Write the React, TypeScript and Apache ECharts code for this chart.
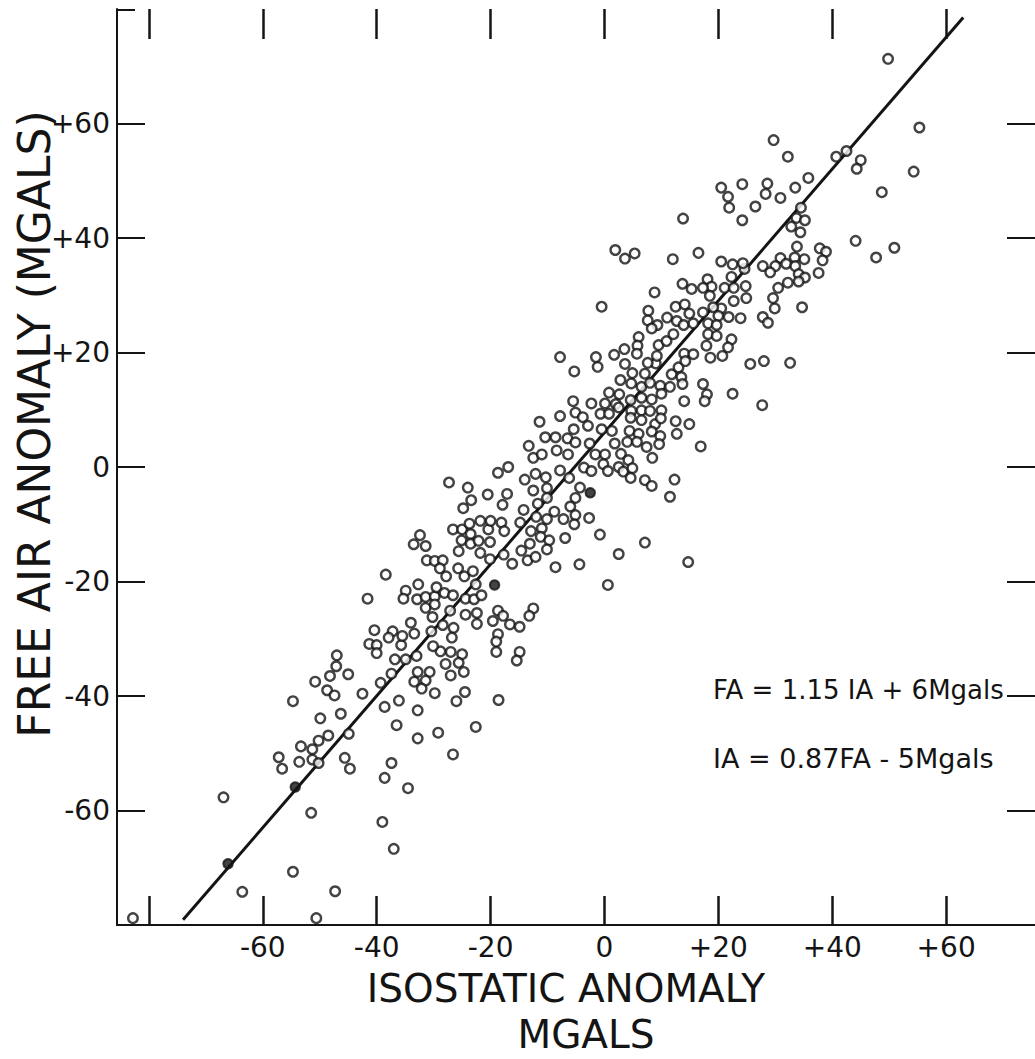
import React, { useEffect, useRef } from "react";
import * as echarts from "echarts";

// Tick values (data units, mGal)
const xTickValues = [-80, -60, -40, -20, 0, 20, 40, 60];
const xLabelValues = [-60, -40, -20, 0, 20, 40, 60];
const yTickValues = [-60, -40, -20, 0, 20, 40, 60];
const yLabelValues = [-60, -40, -20, 0, 20, 40, 60];

// Regression line FA = 1.15 IA + 6 (end points)
const fitLine = [
  [-74, -79.1],
  [63, 78.5],
];

// Observations [isostatic anomaly, free-air anomaly]
const pointsLow = [
  [-82.8, -78.8], [-47.0, -32.9], [-47.1, -34.8], [-48.2, -36.5], [-45.0, -36.2], [-41.3, -30.9], [-40.0, -31.1],
  [-40.0, -32.5], [-35.7, -31.1], [-36.8, -33.6], [-34.9, -33.6], [-33.0, -33.0], [-50.8, -37.5], [-48.7, -39.0],
  [-47.4, -39.9], [-42.5, -39.6], [-39.3, -37.7], [-37.4, -36.1], [-33.4, -37.5], [-32.8, -35.8], [-54.7, -40.9],
  [-49.9, -43.9], [-46.3, -43.1], [-38.6, -41.9], [-36.1, -40.8], [-32.8, -42.5], [-36.5, -45.1], [-32.8, -47.4],
  [-48.5, -46.9], [-50.2, -47.8], [-44.9, -46.6], [-53.3, -48.8], [-51.3, -49.3], [-51.3, -51.1], [-50.2, -51.7],
  [-57.2, -50.7], [-56.6, -52.7], [-53.6, -51.5], [-45.6, -50.8], [-44.7, -52.7], [-37.4, -51.7], [-38.6, -54.3],
  [-34.5, -56.1], [-66.9, -57.7], [-51.5, -60.4], [-39.0, -62.0], [-37.0, -66.7], [-54.7, -70.7],
  [-63.6, -74.2], [-47.3, -74.1], [-50.6, -78.8],
];

const pointsMidLow = [
  [-27.3, -2.7], [-24.0, -3.6], [-20.5, -4.8], [-17.1, -4.7], [-23.4, -5.8], [-24.8, -7.2], [-17.9, -6.6],
  [-12.5, -4.1], [-10.1, -3.7], [-11.7, -6.4], [-14.2, -7.5], [-8.8, -7.8], [-10.1, -5.4], [-26.6, -10.9],
  [-25.0, -10.9], [-23.7, -9.9], [-23.5, -11.7], [-25.1, -12.8], [-21.8, -9.4], [-20.4, -10.9], [-20.0, -9.4],
  [-18.1, -9.7], [-17.6, -11.2], [-14.8, -9.7], [-12.9, -11.2], [-12.0, -8.7], [-10.1, -9.1], [-11.0, -10.7],
  [-11.2, -12.2], [-9.7, -12.8], [-13.1, -13.4], [-14.6, -14.6], [-13.5, -16.3], [-12.1, -15.7], [-10.1, -14.4],
  [-8.6, -17.5], [-16.2, -16.9], [-17.7, -15.3], [-20.1, -16.1], [-21.8, -15.0], [-23.5, -13.4], [-22.1, -12.9],
  [-20.1, -13.1], [-25.6, -14.7], [-32.4, -11.9], [-33.5, -13.5], [-31.4, -13.8], [-31.2, -16.3], [-29.8, -16.4],
  [-28.4, -16.3], [-28.9, -17.7], [-27.8, -19.1], [-25.7, -17.7], [-24.6, -19.1], [-23.1, -18.2], [-38.4, -18.8],
  [-34.9, -21.6], [-35.3, -23.0], [-32.7, -20.5], [-32.9, -23.1], [-31.4, -22.7], [-31.4, -24.6], [-29.8, -22.6],
  [-29.5, -21.0], [-29.8, -24.0], [-28.1, -22.0], [-26.6, -22.4], [-27.1, -25.1], [-24.4, -23.0], [-22.9, -23.1],
  [-21.6, -22.4], [-22.6, -20.5], [-41.6, -23.0], [-30.2, -26.2], [-24.4, -25.8], [-22.4, -25.5], [-22.4, -27.4],
  [-18.7, -25.1], [-17.8, -26.0], [-19.6, -26.9], [-16.6, -27.5], [-14.9, -27.9], [-12.5, -24.7], [-13.2, -26.0],
  [-34.0, -27.2], [-33.4, -29.1], [-30.4, -28.7], [-28.4, -27.6], [-26.5, -28.1], [-26.8, -29.8], [-40.4, -28.5],
  [-37.2, -28.7], [-37.9, -29.8], [-35.5, -29.5], [-18.7, -29.2],
  [-19.0, -30.5], [-19.0, -32.3], [-14.9, -32.3], [-15.4, -33.8], [-25.0, -32.7], [-25.6, -34.2], [-24.7, -35.8],
  [-27.0, -32.3], [-28.8, -32.2], [-30.1, -31.3], [-27.9, -34.4], [-27.0, -36.4], [-30.7, -35.8], [-31.4, -37.3],
  [-32.1, -38.7], [-29.8, -39.5], [-24.5, -39.3], [-26.0, -40.9], [-18.6, -40.7], [-29.2, -46.4], [-22.6, -45.4],
  [-26.6, -50.2],
];

const pointsMid = [
  [-5.3, 16.7], [-1.2, 17.5], [3.6, 18.0], [4.9, 16.4], [7.1, 16.3], [9.0, 18.1], [11.8, 16.2], [2.8, 15.2],
  [4.7, 14.6], [6.5, 14.0], [8.0, 14.7], [9.8, 14.2], [11.5, 14.0], [0.8, 13.0], [2.6, 12.7], [2.0, 11.0],
  [4.6, 11.7], [6.5, 12.1], [8.3, 11.8], [10.0, 12.8], [0.1, 11.1], [-2.3, 11.1], [-5.5, 11.5], [-5.1, 9.5],
  [-3.8, 8.7], [-0.7, 9.3], [0.8, 9.3], [2.5, 10.4], [4.7, 9.8], [6.5, 9.9], [8.0, 9.8], [10.0, 9.9],
  [4.6, 8.6], [6.5, 8.2], [8.9, 7.5], [9.9, 8.5], [12.5, 8.0], [-7.8, 8.9], [-11.4, 7.9], [-2.9, 7.2],
  [-5.4, 6.6], [-0.5, 6.6], [1.3, 6.3], [4.4, 6.3], [6.0, 5.8], [8.3, 6.2], [9.8, 5.4], [12.7, 5.8],
  [-10.4, 5.2], [-8.6, 5.2], [-6.5, 5.0], [-5.1, 4.3], [-2.6, 4.1], [1.8, 4.1], [4.0, 4.4], [5.7, 4.4],
  [7.4, 3.5], [9.6, 4.0], [-13.3, 3.7], [-12.5, 1.6], [-11.0, 2.2], [-8.4, 2.9], [-6.4, 2.2], [-1.6, 2.2],
  [0.1, 2.2], [2.9, 2.3], [4.2, 1.2], [8.4, 1.6], [-3.6, -0.1], [-2.3, -0.7], [-0.2, 0.5], [0.6, -0.7],
  [2.5, 0], [3.3, -0.8], [4.9, -0.2], [4.6, -1.9], [7.1, -2.3], [-7.8, -0.6], [-6.2, -1.9], [-18.7, -1.0],
  [-16.9, 0], [-14.0, -2.2], [-12.1, -1.2], [-10.3, -1.8], [12.3, -2.2], [-4.3, -3.6], [-5.1, -5.4],
  [-6.0, -6.9], [-5.1, -8.4], [-5.3, -10.0], [-7.2, -9.1], [-2.7, -8.9], [-0.8, -11.8], [-6.9, -12.4],
  [-4.4, -17.0], [2.5, -15.2], [7.1, -13.2], [0.6, -20.6], [8.3, -3.3], [11.5, -5.2],
];

const pointsMidHigh = [
  [13.8, 43.4], [1.9, 37.9], [3.6, 36.4], [5.3, 37.3], [12.0, 36.3], [16.5, 37.4], [-0.5, 28.0], [8.8, 30.5],
  [13.7, 32.0], [15.3, 31.1], [7.7, 27.3], [7.6, 25.6], [9.3, 24.8], [8.3, 24.2], [11.0, 26.1], [12.7, 25.5],
  [12.5, 28.0], [14.1, 28.4], [14.9, 26.8], [13.9, 24.8], [15.6, 25.1], [6.0, 22.7], [5.8, 21.2], [5.7, 19.8],
  [3.5, 20.6], [1.7, 19.6], [-1.5, 19.2], [-7.8, 19.2], [9.5, 21.3], [10.9, 22.0], [12.1, 23.2], [9.2, 19.4],
  [7.6, 18.2], [14.0, 19.8], [15.6, 19.7], [13.0, 17.4], [14.2, 18.5], [13.5, 15.7], [13.7, 14.5], [17.3, 14.5],
  [18.0, 12.7], [17.6, 11.5], [14.0, 11.5], [22.5, 12.8], [18.6, 19.1], [20.7, 19.4], [25.6, 18.0], [28.0, 18.5],
  [32.6, 18.2], [27.7, 10.8], [14.9, 7.5], [16.9, 3.6], [14.7, -16.6],
];

const pointsHigh = [
  [49.8, 71.3], [55.3, 59.3], [29.7, 57.1], [32.2, 54.2], [40.7, 54.2], [42.5, 55.2], [45.0, 53.6], [44.3, 52.1],
  [54.3, 51.6], [48.7, 48.0], [20.5, 48.8], [21.7, 47.2], [21.9, 45.3], [24.2, 49.4], [28.6, 49.5], [28.3, 47.7],
  [26.5, 45.5], [30.9, 47.0], [33.5, 48.8], [35.8, 50.5], [34.5, 45.3], [24.2, 43.1], [33.7, 43.5], [35.2, 43.1],
  [32.8, 42.0], [34.4, 41.0], [44.1, 39.5], [50.9, 38.3], [47.7, 36.6], [33.8, 38.5], [37.8, 38.2], [38.9, 37.6],
  [38.3, 36.1], [35.1, 36.3], [33.4, 36.6], [30.9, 36.5], [31.9, 35.5], [30.0, 35.1], [27.8, 35.1], [29.1, 34.0],
  [33.5, 35.1], [34.1, 33.7], [35.2, 33.1], [37.6, 33.9], [32.2, 32.2], [30.5, 31.3], [34.1, 32.4], [29.6, 29.5],
  [29.9, 27.7], [27.8, 26.2], [28.7, 25.2], [34.7, 27.9], [24.9, 29.5], [24.8, 31.6], [23.9, 26.0], [24.6, 34.6],
  [24.3, 35.6], [22.5, 35.4], [20.5, 35.9], [22.3, 33.2], [21.1, 31.3], [22.7, 31.3], [22.7, 29.0], [18.1, 32.8],
  [18.8, 31.5], [17.3, 31.3], [18.5, 29.9], [20.5, 27.7], [19.1, 27.9], [17.3, 27.0], [20.0, 26.4], [21.8, 26.2],
  [18.2, 25.1], [19.7, 24.8], [18.2, 23.2], [19.7, 22.9], [22.3, 22.3], [17.9, 21.2], [21.7, 20.9],
];

// Points drawn as solid dots in the figure
const pointsSolid = [
  [-66.1, -69.3], [-54.3, -55.9], [-19.3, -20.6], [-2.5, -4.5],
];

const fmt = (v: number) => (v > 0 ? `+${v}` : `${v}`);

export default function App() {
  const ref = useRef<HTMLDivElement>(null);

  useEffect(() => {
    document.body.style.margin = "0";
    const chart = echarts.init(ref.current!, null, { renderer: "svg" });
    const font = "DejaVu Sans";
    const ink = "#141414";
    const xMin = -85.6;
    const xMax = 75.6;
    const scatterBase = {
      type: "scatter",
      symbol: "circle",
      symbolSize: 9.5,
      itemStyle: { color: "#ffffff", borderColor: ink, borderWidth: 2.4 },
      z: 3,
      silent: true,
    };

    chart.setOption({
      animation: false,
      backgroundColor: "#ffffff",
      grid: { left: 117, right: -3, top: 9, bottom: 134 },
      xAxis: [
        {
          type: "value",
          position: "bottom",
          min: xMin,
          max: xMax,
          splitLine: { show: false },
          axisLine: { show: true, onZero: false, lineStyle: { color: ink, width: 2 } },
          axisTick: {
            show: true,
            inside: true,
            length: 29,
            customValues: xTickValues,
            lineStyle: { color: ink, width: 2.5 },
          },
          axisLabel: {
            show: true,
            customValues: xLabelValues,
            formatter: fmt,
            margin: 8,
            fontSize: 28,
            color: ink,
            fontFamily: font,
          },
        },
        {
          type: "value",
          position: "top",
          min: xMin,
          max: xMax,
          splitLine: { show: false },
          axisLine: { show: false, onZero: false },
          axisTick: {
            show: true,
            inside: true,
            length: 30,
            customValues: xTickValues,
            lineStyle: { color: ink, width: 2.5 },
          },
          axisLabel: { show: false },
        },
      ],
      yAxis: [
        {
          type: "value",
          position: "left",
          min: -80,
          max: 80,
          splitLine: { show: false },
          axisLine: { show: true, onZero: false, lineStyle: { color: ink, width: 2 } },
          axisTick: {
            show: true,
            inside: true,
            length: 28,
            customValues: yTickValues,
            lineStyle: { color: ink, width: 2 },
          },
          axisLabel: {
            show: true,
            customValues: yLabelValues,
            formatter: fmt,
            margin: 7,
            fontSize: 28,
            color: ink,
            fontFamily: font,
          },
        },
        {
          type: "value",
          position: "right",
          min: -80,
          max: 80,
          splitLine: { show: false },
          axisLine: { show: false, onZero: false },
          axisTick: {
            show: true,
            inside: true,
            length: 28,
            customValues: yTickValues,
            lineStyle: { color: ink, width: 2 },
          },
          axisLabel: { show: false },
        },
      ],
      series: [
        {
          type: "line",
          data: fitLine,
          symbol: "none",
          lineStyle: { color: ink, width: 3 },
          z: 2,
          silent: true,
        },
        { ...scatterBase, data: pointsLow },
        { ...scatterBase, data: pointsMidLow },
        { ...scatterBase, data: pointsMid },
        { ...scatterBase, data: pointsMidHigh },
        { ...scatterBase, data: pointsHigh },
        {
          ...scatterBase,
          data: pointsSolid,
          itemStyle: { color: ink, borderColor: ink, borderWidth: 2 },
        },
      ],
      graphic: [
        {
          type: "line",
          shape: { x1: 117, y1: 10, x2: 135, y2: 10 },
          style: { stroke: ink, lineWidth: 2 },
        },
        {
          type: "text",
          x: 34,
          y: 424,
          rotation: Math.PI / 2,
          style: {
            text: "FREE AIR ANOMALY (MGALS)",
            fontSize: 44,
            lineHeight: 44,
            fontFamily: font,
            fill: ink,
            align: "center",
            verticalAlign: "middle",
          },
        },
        {
          type: "text",
          x: 566,
          y: 988,
          style: {
            text: "ISOSTATIC ANOMALY",
            fontSize: 39,
            lineHeight: 39,
            fontFamily: font,
            fill: ink,
            align: "center",
            verticalAlign: "middle",
          },
        },
        {
          type: "text",
          x: 586,
          y: 1034,
          style: {
            text: "MGALS",
            fontSize: 39,
            lineHeight: 39,
            fontFamily: font,
            fill: ink,
            align: "center",
            verticalAlign: "middle",
          },
        },
        {
          type: "text",
          x: 713,
          y: 690,
          style: {
            text: "FA = 1.15 IA + 6Mgals",
            fontSize: 26,
            fontFamily: font,
            fill: ink,
            align: "left",
            verticalAlign: "middle",
          },
        },
        {
          type: "text",
          x: 713,
          y: 758,
          style: {
            text: "IA = 0.87FA - 5Mgals",
            fontSize: 27,
            fontFamily: font,
            fill: ink,
            align: "left",
            verticalAlign: "middle",
          },
        },
      ],
    });

    return () => {
      chart.dispose();
    };
  }, []);

  return (
    <div
      ref={ref}
      style={{ position: "absolute", left: 0, top: 0, width: 1035, height: 1059, background: "#fff" }}
    />
  );
}
